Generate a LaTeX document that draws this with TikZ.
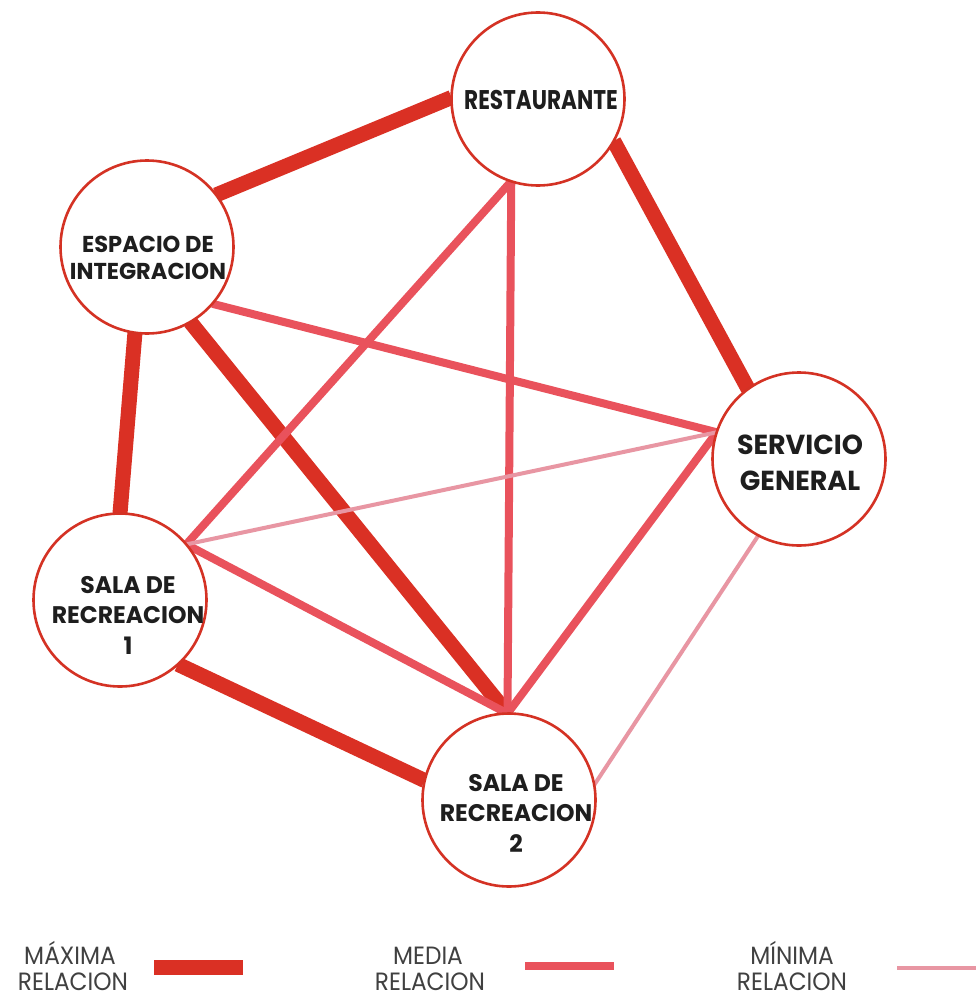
\documentclass[tikz,border=0pt]{standalone}
\usepackage{fontspec}
\newfontfamily\nodefont{Poppins}[FakeStretch=0.8]
\newfontfamily\nodefontw{Poppins}[FakeStretch=0.98]
\newfontfamily\legfont{Poppins}[FakeStretch=0.93]
\pgfdeclarelayer{bg}
\pgfdeclarelayer{edges}
\pgfsetlayers{bg,edges,main}
\definecolor{maxc}{RGB}{218,48,36}
\definecolor{medc}{RGB}{233,82,92}
\definecolor{minc}{RGB}{232,150,163}
\definecolor{ringc}{RGB}{212,50,36}
\definecolor{txtc}{RGB}{30,30,30}
\begin{document}
\begin{tikzpicture}[x=1pt,y=-1pt,
  room/.style={circle, draw=ringc, line width=2.6pt, fill=white, minimum size=173pt, inner sep=0pt, outer sep=0pt},
  lbl/.style={align=center, text=txtc, inner sep=0pt, font=\nodefont\bfseries},
  maxline/.style={draw=maxc, line width=15pt},
  medline/.style={draw=medc, line width=8pt},
  minline/.style={draw=minc, line width=4pt},
  legtxt/.style={font=\legfont\fontsize{25}{26}\selectfont, text=black!75, inner sep=0pt, anchor=base}
]
\begin{pgfonlayer}{bg}
\fill[white] (0,0) rectangle (976,998);
\end{pgfonlayer}
\useasboundingbox (0,0) rectangle (976,998);

% rooms
\node[room] (rest) at (538,99) {};
\node[room] (esp) at (147,247) {};
\node[room] (serv) at (799,459) {};
\node[room] (sala1) at (120,600) {};
\node[room] (sala2) at (509,800) {};

% labels
\node[lbl, font=\nodefont\bfseries\fontsize{27}{33}\selectfont] (restT) at (541,100) {RESTAURANTE};
\node[lbl, font=\nodefontw\bfseries\fontsize{27.5}{35.5}\selectfont] (servT) at (800,463) {SERVICIO\\GENERAL};
\node[lbl, font=\nodefontw\bfseries\fontsize{23}{27}\selectfont] (espT) at (148,258) {ESPACIO DE\\INTEGRACION};
\node[lbl, font=\nodefontw\bfseries\fontsize{24}{30.5}\selectfont] (sala1T) at (128,615) {SALA DE\\RECREACION\\1};
\node[lbl, font=\nodefontw\bfseries\fontsize{24}{30.5}\selectfont] (sala2T) at (516,813) {SALA DE\\RECREACION\\2};

\begin{pgfonlayer}{edges}
% maxima
\draw[maxline] (rest.179) -- (esp.37);
\draw[maxline] (rest.-29) -- (serv.126);
\draw[maxline] (esp.-98) -- (sala1.90);
\draw[maxline] (esp.-60) -- (sala2.91);
\draw[maxline] (sala1.-48) -- (sala2.167);
% media
\draw[medline] (rest.252) -- (sala1.40);
\draw[medline] (rest.252) -- (sala2.91);
\draw[medline] (esp.-41) -- (serv.162);
\draw[medline] (serv.162) -- (sala2.91);
\draw[medline] (sala1.40) -- (sala2.91);
% minima
\draw[minline] (serv.162) -- (sala1.40);
\draw[minline] (serv.-118) -- (sala2.10);
\end{pgfonlayer}

% legend
\node[legtxt] (l1a) at (70,964) {MÁXIMA};
\node[legtxt] (l1b) at (73,990) {RELACION};
\coordinate (b1s) at (154,967.5); \coordinate (b1e) at (243,967.5);
\draw[maxline] (b1s) -- (b1e);

\node[legtxt] (l2a) at (428,964) {MEDIA};
\node[legtxt] (l2b) at (430,990) {RELACION};
\coordinate (b2s) at (525,965.5); \coordinate (b2e) at (614,965.5);
\draw[medline] (b2s) -- (b2e);

\node[legtxt] (l3a) at (792,964) {MÍNIMA};
\node[legtxt] (l3b) at (792,990) {RELACION};
\coordinate (b3s) at (897,968); \coordinate (b3e) at (976,968);
\draw[minline] (b3s) -- (b3e);
\end{tikzpicture}
\end{document}
